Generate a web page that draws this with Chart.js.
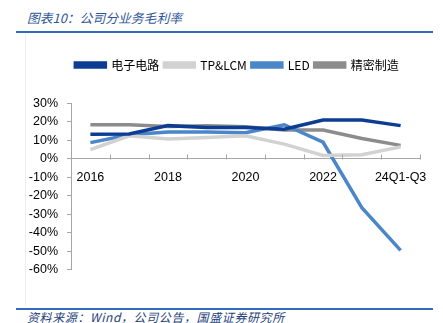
<!DOCTYPE html>
<html>
<head>
<meta charset="utf-8">
<script src="https://cdn.jsdelivr.net/npm/chart.js@4.4.0/dist/chart.umd.min.js"></script>
<style>
  html, body { margin: 0; padding: 0; background: #fff; }
  #wrap { position: relative; width: 443px; height: 323px; overflow: hidden; }
  .title { position: absolute; left: 27px; top: 8px; font: italic 12.8px "Noto Sans CJK SC", sans-serif; color: #2f5597; }
  .rule { position: absolute; left: 16px; width: 417px; background: #2f6cc0; }
  .leftline { position: absolute; left: 25px; top: 34px; width: 1px; height: 272px; background: #eeeeee; }
  .source { position: absolute; left: 27px; top: 308px; font: italic 12px "Noto Sans CJK SC", sans-serif; color: #1f3f7a; letter-spacing: 0.6px; }
  #box { position: absolute; left: 0; top: 40px; width: 443px; height: 246px; }
</style>
</head>
<body>
<div id="wrap">
  <div class="title">图表10：公司分业务毛利率</div>
  <div class="rule" style="top:31px;height:2px;"></div>
  <div class="leftline"></div>
  <div id="box"><canvas id="chart"></canvas></div>
  <div class="rule" style="top:308px;height:1.5px;"></div>
  <div class="source">资料来源：Wind，公司公告，国盛证券研究所</div>
</div>
<script>
const categories = ["2016", "2017", "2018", "2019", "2020", "2021", "2022", "2023", "24Q1-Q3"];
const circuit = [13.3, 13.5, 18.0, 17.0, 17.0, 16.0, 21.0, 21.0, 18.0];
const tpLcm = [5.0, 12.5, 10.8, 11.5, 12.5, 8.0, 1.8, 2.2, 6.5];
const led = [8.8, 13.0, 14.5, 14.5, 14.2, 18.5, 9.0, -26.5, -49.6];
const precision = [18.5, 18.5, 17.5, 18.0, 17.4, 15.6, 15.6, 11.0, 7.3];
const yTicks = [30, 20, 10, 0, -10, -20, -30, -40, -50, -60];

// small tick marks pointing up from the zero line, between categories
const upTicks = {
  id: "upTicks",
  afterDraw(chart) {
    const xs = chart.scales.x;
    const ys = chart.scales.y;
    const ctx = chart.ctx;
    const step = xs.getPixelForValue(1) - xs.getPixelForValue(0);
    const y0 = Math.round(ys.getPixelForValue(0)) + 0.5;
    ctx.save();
    ctx.strokeStyle = "#a6a6a6";
    ctx.lineWidth = 1;
    for (let i = 0; i <= categories.length; i++) {
      const x = Math.round(xs.getPixelForValue(i) - step / 2) + 0.5;
      ctx.beginPath();
      ctx.moveTo(x, y0 - 5);
      ctx.lineTo(x, y0);
      ctx.stroke();
    }
    ctx.restore();
  }
};

// room under the legend, and nudge it right a bit
const legendTweak = {
  id: "legendTweak",
  beforeInit(chart) {
    const lg = chart.legend;
    const fit = lg.fit;
    lg.fit = function () {
      fit.apply(this, arguments);
      this.height += 22.5;
    };
    const draw = lg.draw;
    lg.draw = function () {
      chart.ctx.save();
      chart.ctx.translate(17, 0);
      draw.apply(this, arguments);
      chart.ctx.restore();
    };
  }
};

function makeSet(label, data, color) {
  return {
    label: label,
    data: data,
    borderColor: color,
    backgroundColor: color,
    borderWidth: 3.5,
    pointRadius: 0,
    tension: 0,
    fill: false
  };
}

const tickFont = { family: "'Liberation Sans', sans-serif", size: 12.5 };

new Chart(document.getElementById("chart").getContext("2d"), {
  type: "line",
  data: {
    labels: categories,
    datasets: [
      makeSet("电子电路", circuit, "#0c3d92"),
      makeSet("TP&LCM", tpLcm, "#d2d2d2"),
      makeSet("LED", led, "#4a86c8"),
      makeSet("精密制造", precision, "#8c8c8c")
    ]
  },
  options: {
    responsive: true,
    maintainAspectRatio: false,
    animation: false,
    layout: { padding: { left: 20, right: 23, top: 14, bottom: 4 } },
    plugins: {
      legend: {
        position: "top",
        labels: {
          boxWidth: 30,
          boxHeight: 4,
          padding: 5,
          color: "#000",
          font: { family: "'Noto Sans CJK SC', 'Liberation Sans', sans-serif", size: 12 }
        }
      },
      tooltip: { enabled: false }
    },
    scales: {
      x: {
        position: { y: 0 },
        offset: true,
        grid: { display: false, drawTicks: false },
        border: { color: "#a6a6a6", width: 1 },
        ticks: {
          autoSkip: false,
          maxRotation: 0,
          padding: 11,
          color: "#000",
          font: tickFont,
          callback: (v, i) => (i % 2 === 0 ? categories[i] : "")
        }
      },
      y: {
        min: -60,
        max: 30,
        afterFit(scale) { scale.width = 51; },
        afterBuildTicks(scale) { scale.ticks = yTicks.map(v => ({ value: v })); },
        grid: { drawOnChartArea: false, drawTicks: true, tickLength: 4, color: "#a6a6a6" },
        border: { color: "#a6a6a6", width: 1 },
        ticks: {
          padding: 9,
          color: "#000",
          font: tickFont,
          callback: v => v + "%"
        }
      }
    }
  },
  plugins: [upTicks, legendTweak]
});
</script>
</body>
</html>
